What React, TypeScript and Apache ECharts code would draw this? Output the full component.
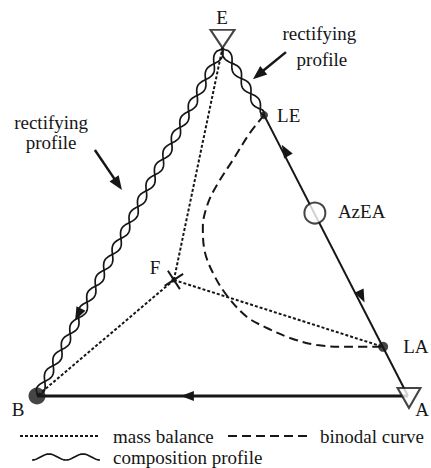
import React, { useEffect, useRef } from "react";
import * as echarts from "echarts";

// Composition space: B = (0,0), A = (1,0), E = apex
const NODE_E = [0.5, 0.978];
const NODE_B = [0, 0];
const NODE_A = [1, 0];
const NODE_LE = [0.612, 0.789];
const NODE_AZEA = [0.749, 0.514];
const NODE_LA = [0.933, 0.138];
const NODE_F = [0.369, 0.326];

// binodal curve (from LE round to LA)
const BINODAL_X = [0.612, 0.574, 0.528, 0.488, 0.461, 0.447, 0.453, 0.48, 0.515, 0.566, 0.62, 0.682, 0.755, 0.844, 0.933];
const BINODAL_Y = [0.789, 0.739, 0.663, 0.598, 0.542, 0.475, 0.402, 0.334, 0.278, 0.222, 0.191, 0.163, 0.143, 0.138, 0.138];

// profile arrows: position and the point they head toward
const ARROW_AT = [
  [0.668, 0.691],
  [0.876, 0.278],
  [0.404, 0.0],
  [0.11, 0.228],
];
const ARROW_TO = [NODE_LE, NODE_A, NODE_B, NODE_B];

// annotation arrows (from -> to)
const NOTE_FROM = [
  [0.156, 0.691],
  [0.671, 0.966],
];
const NOTE_TO = [
  [0.229, 0.579],
  [0.582, 0.89],
];

const LABEL_TEXT = ["E", "B", "A", "F", "LE", "LA", "AzEA", "rectifying", "profile", "rectifying", "profile"];
const LABEL_X = [0.499, -0.051, 1.038, 0.318, 0.647, 0.987, 0.811, 0.038, 0.038, 0.761, 0.768];
const LABEL_Y = [1.062, -0.039, -0.039, 0.362, 0.789, 0.138, 0.517, 0.767, 0.713, 1.017, 0.944];
const LABEL_ALIGN = ["center", "center", "center", "center", "left", "left", "left", "center", "center", "center", "center"];

const LEGEND_TEXT = ["mass balance", "binodal curve", "composition profile"];

const INK = "#161616";
const FONT = "'Liberation Serif', 'Times New Roman', 'DejaVu Serif', serif";
const W = 431;
const H = 468;

function wavePoints(p1: number[], p2: number[], amp: number, period: number, phase: number) {
  const dx = p2[0] - p1[0];
  const dy = p2[1] - p1[1];
  const L = Math.hypot(dx, dy);
  const ux = dx / L, uy = dy / L;
  const nx = -uy, ny = ux;
  const pts: number[][] = [];
  for (let s = 0; s <= L; s += 1) {
    const env = Math.min(1, s / 5, (L - s) / 5);
    const off = amp * env * Math.sin((2 * Math.PI * s) / period + phase);
    pts.push([p1[0] + ux * s + nx * off, p1[1] + uy * s + ny * off]);
  }
  return pts;
}

function headPoints(tip: number[], ux: number, uy: number, len: number, wid: number) {
  const nx = -uy, ny = ux;
  const bx = tip[0] - ux * len, by = tip[1] - uy * len;
  return [
    [tip[0], tip[1]],
    [bx + nx * wid / 2, by + ny * wid / 2],
    [bx - nx * wid / 2, by - ny * wid / 2],
  ];
}

export default function App() {
  const ref = useRef<HTMLDivElement>(null);
  useEffect(() => {
    if (!ref.current) return;
    const chart = echarts.init(ref.current, null, { renderer: "svg" });

    const seg = (api: any) => {
      const p1 = api.coord([api.value(0), api.value(1)]);
      const p2 = api.coord([api.value(2), api.value(3)]);
      return { p1, p2 };
    };

    const legendWave: number[][] = [];
    for (let s = 0; s <= 68; s += 1) {
      legendWave.push([32 + s, 457 + 3 * Math.cos((2 * Math.PI * s) / 34)]);
    }

    const txt = (text: string) => ({ text, fill: INK, fontSize: 19, fontFamily: FONT, verticalAlign: "middle" });

    const option: any = {
      animation: false,
      backgroundColor: "#ffffff",
      grid: { left: 37, right: 23, top: 40, bottom: 72 },
      xAxis: { type: "value", min: 0, max: 1, show: false },
      yAxis: { type: "value", min: 0, max: 1, show: false },
      series: [
        // solid profile lines
        {
          type: "custom",
          clip: false,
          encode: { x: [0, 2], y: [1, 3] },
          data: [
            [...NODE_B, ...NODE_A, 3],
            [...NODE_LE, ...NODE_A, 2],
          ],
          renderItem: (params: any, api: any) => {
            const { p1, p2 } = seg(api);
            return {
              type: "line",
              shape: { x1: p1[0], y1: p1[1], x2: p2[0], y2: p2[1] },
              style: { stroke: INK, lineWidth: api.value(4) },
            };
          },
        },
        // mass balance (dotted)
        {
          type: "custom",
          clip: false,
          encode: { x: [0, 2], y: [1, 3] },
          data: [
            [...NODE_F, ...NODE_E],
            [...NODE_F, ...NODE_B],
            [...NODE_F, ...NODE_LA],
          ],
          renderItem: (params: any, api: any) => {
            const { p1, p2 } = seg(api);
            return {
              type: "line",
              shape: { x1: p1[0], y1: p1[1], x2: p2[0], y2: p2[1] },
              style: { stroke: INK, lineWidth: 2, lineDash: [3, 2] },
            };
          },
        },
        // binodal curve
        {
          type: "line",
          clip: false,
          smooth: 0.35,
          symbol: "none",
          data: BINODAL_X.map((x, i) => [x, BINODAL_Y[i]]),
          lineStyle: { color: INK, width: 2, type: [9, 5] },
        },
        // composition profiles (twisted wave)
        {
          type: "custom",
          clip: false,
          encode: { x: [0, 2], y: [1, 3] },
          data: [
            [...NODE_E, ...NODE_B],
            [...NODE_E, ...NODE_LE],
          ],
          renderItem: (params: any, api: any) => {
            const { p1, p2 } = seg(api);
            return {
              type: "group",
              children: [0, Math.PI].map((ph) => ({
                type: "polyline",
                shape: { points: wavePoints(p1, p2, 4, 36, ph) },
                style: { stroke: INK, lineWidth: 1.7, fill: "none" },
              })),
            };
          },
        },
        // profile arrowheads
        {
          type: "custom",
          clip: false,
          encode: { x: [0, 2], y: [1, 3] },
          data: ARROW_AT.map((p, i) => [...p, ...ARROW_TO[i]]),
          renderItem: (params: any, api: any) => {
            const { p1, p2 } = seg(api);
            const dx = p2[0] - p1[0], dy = p2[1] - p1[1];
            const L = Math.hypot(dx, dy);
            const ux = dx / L, uy = dy / L;
            const tip = [p1[0] + ux * 6, p1[1] + uy * 6];
            return {
              type: "polygon",
              shape: { points: headPoints(tip, ux, uy, 13, 10) },
              style: { fill: INK },
            };
          },
        },
        // annotation arrows
        {
          type: "custom",
          clip: false,
          encode: { x: [0, 2], y: [1, 3] },
          data: NOTE_FROM.map((p, i) => [...p, ...NOTE_TO[i]]),
          renderItem: (params: any, api: any) => {
            const { p1, p2 } = seg(api);
            const dx = p2[0] - p1[0], dy = p2[1] - p1[1];
            const L = Math.hypot(dx, dy);
            const ux = dx / L, uy = dy / L;
            return {
              type: "group",
              children: [
                {
                  type: "line",
                  shape: { x1: p1[0], y1: p1[1], x2: p2[0] - ux * 10, y2: p2[1] - uy * 10 },
                  style: { stroke: INK, lineWidth: 2.5 },
                },
                {
                  type: "polygon",
                  shape: { points: headPoints(p2, ux, uy, 14, 11) },
                  style: { fill: INK },
                },
              ],
            };
          },
        },
        // F cross
        {
          type: "custom",
          clip: false,
          data: [NODE_F],
          renderItem: (params: any, api: any) => {
            const c = api.coord([api.value(0), api.value(1)]);
            const mk = (deg: number, half: number) => {
              const a = (deg * Math.PI) / 180;
              return {
                type: "line",
                shape: {
                  x1: c[0] - Math.cos(a) * half,
                  y1: c[1] - Math.sin(a) * half,
                  x2: c[0] + Math.cos(a) * half,
                  y2: c[1] + Math.sin(a) * half,
                },
                style: { stroke: INK, lineWidth: 2 },
              };
            };
            return {
              type: "group",
              children: [
                mk(57, 11),
                mk(-33, 11),
                { type: "circle", shape: { cx: c[0], cy: c[1], r: 2.5 }, style: { fill: INK } },
              ],
            };
          },
        },
        // point markers
        {
          type: "scatter",
          clip: false,
          data: [
            { value: NODE_B, symbol: "circle", symbolSize: 17, itemStyle: { color: INK } },
            { value: NODE_LE, symbol: "circle", symbolSize: 8, itemStyle: { color: INK } },
            { value: NODE_LA, symbol: "circle", symbolSize: 10, itemStyle: { color: INK } },
            {
              value: NODE_AZEA,
              symbol: "circle",
              symbolSize: 21,
              itemStyle: { color: "#ffffff", borderColor: INK, borderWidth: 2 },
            },
            {
              value: NODE_E,
              symbol: "triangle",
              symbolRotate: 180,
              symbolSize: [24, 18],
              symbolOffset: [0, -9],
              itemStyle: { color: "rgba(0,0,0,0)", borderColor: INK, borderWidth: 2 },
            },
            {
              value: NODE_A,
              symbol: "triangle",
              symbolRotate: 180,
              symbolSize: [23, 20],
              symbolOffset: [1, 2],
              itemStyle: { color: "#ffffff", borderColor: INK, borderWidth: 2 },
            },
          ],
        },
        // labels
        {
          type: "custom",
          clip: false,
          data: LABEL_X.map((x, i) => [x, LABEL_Y[i], i]),
          renderItem: (params: any, api: any) => {
            const c = api.coord([api.value(0), api.value(1)]);
            const i = api.value(2);
            return {
              type: "text",
              x: c[0],
              y: c[1],
              style: { ...txt(LABEL_TEXT[i]), align: LABEL_ALIGN[i] },
            };
          },
        },
      ],
      graphic: [
        {
          type: "line",
          shape: { x1: 20, y1: 436, x2: 100, y2: 436 },
          style: { stroke: INK, lineWidth: 2, lineDash: [3, 2] },
        },
        { type: "text", x: 113, y: 436, style: txt(LEGEND_TEXT[0]) },
        {
          type: "line",
          shape: { x1: 228, y1: 436, x2: 307, y2: 436 },
          style: { stroke: INK, lineWidth: 2, lineDash: [9, 5] },
        },
        { type: "text", x: 320, y: 436, style: txt(LEGEND_TEXT[1]) },
        {
          type: "polyline",
          shape: { points: legendWave },
          style: { stroke: INK, lineWidth: 1.7, fill: "none" },
        },
        { type: "text", x: 113, y: 457, style: txt(LEGEND_TEXT[2]) },
      ],
    };
    chart.setOption(option);
    return () => chart.dispose();
  }, []);
  return (
    <div
      ref={ref}
      style={{ position: "fixed", left: 0, top: 0, width: W, height: H, background: "#fff" }}
    />
  );
}
